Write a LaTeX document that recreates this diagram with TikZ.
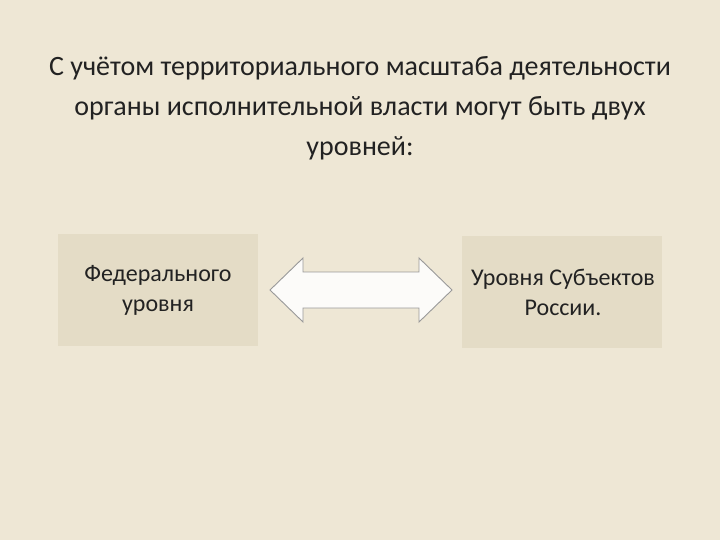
\documentclass[tikz,border=0pt]{standalone}
\usepackage{fontspec}
\setmainfont{Carlito}
\usetikzlibrary{patterns}
\definecolor{bg}{HTML}{EEE7D5}
\definecolor{boxc}{HTML}{E4DCC6}
\definecolor{txt}{HTML}{222222}
\tikzset{levelbox/.style={fill=boxc,draw=none,minimum width=200pt,minimum height=112pt,anchor=north west},
 boxtext/.style={font=\fontsize{24}{30}\selectfont,text=txt,align=center}}
\begin{document}
\begin{tikzpicture}[x=1pt,y=-1pt]
\fill[bg] (0,0) rectangle (720,540);
\useasboundingbox (0,0) rectangle (720,540);
\node[font=\fontsize{28}{40}\selectfont,text=txt,align=center] (title) at (360,108)
 {С учётом территориального масштаба деятельности\\органы исполнительной власти могут быть двух\\уровней:};
\node[levelbox] (fed) at (58,234) {};
\node[boxtext] (fedt) at (158,290) {Федерального\\уровня};
\node[levelbox] (reg) at (462,236) {};
\node[boxtext] (regt) at (563,292) {Уровня Субъектов\\России.};
\coordinate (l) at (270,290);
\coordinate (r) at (452,290);
\draw[fill=white!85!bg,draw=gray!80,line width=0.9pt]
 (l) -- ++(33,-32) -- ++(0,14) -- (419,272) -- ++(0,-14) -- (r) -- (419,322) -- ++(0,-14) -- (303,308) -- ++(0,14) -- cycle;
\end{tikzpicture}
\end{document}
